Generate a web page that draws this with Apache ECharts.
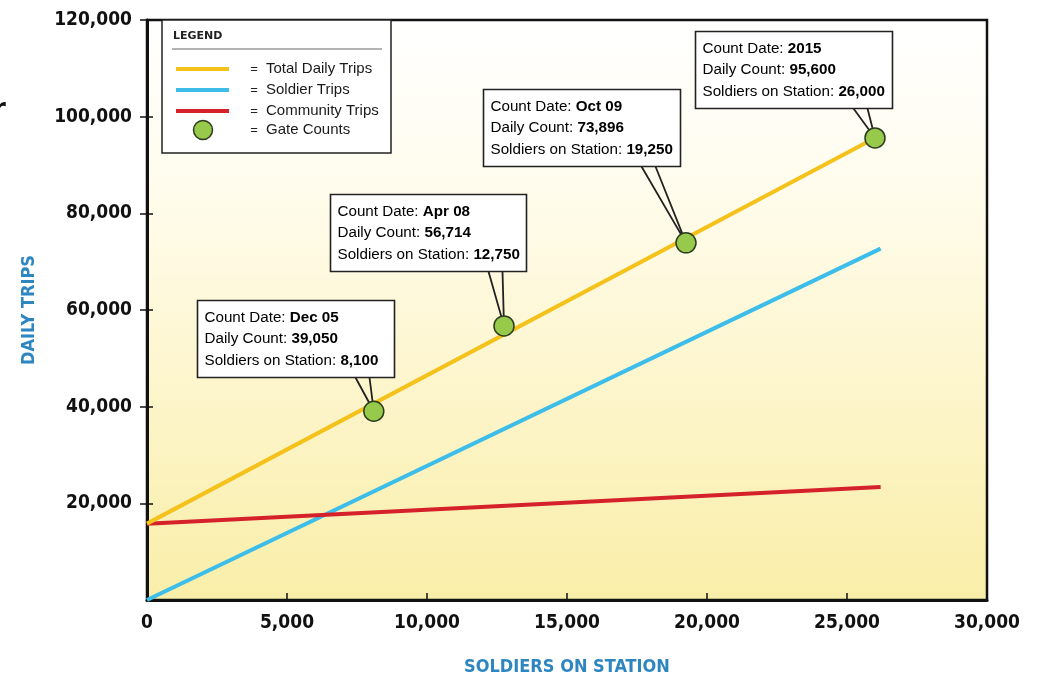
<!DOCTYPE html>
<html><head><meta charset="utf-8">
<script src="https://cdn.jsdelivr.net/npm/echarts/dist/echarts.min.js"></script>
<style>html,body{margin:0;padding:0;background:#fff}#c{width:1040px;height:677px}</style>
</head><body><div id="c"></div>
<script>
// ---- data ----
const xTicks = [0, 5000, 10000, 15000, 20000, 25000, 30000];
const yTicks = [0, 20000, 40000, 60000, 80000, 100000, 120000];
const totalTrips = [[0, 15800], [26000, 95600]];
const soldierTrips = [[0, 0], [26200, 72700]];
const communityTrips = [[0, 15800], [26200, 23400]];
const gateSoldiers = [8100, 12750, 19250, 26000];
const gateCounts = [39050, 56714, 73896, 95600];
const gateDates = ['Dec 05', 'Apr 08', 'Oct 09', '2015'];
const legendNames = ['Total Daily Trips', 'Soldier Trips', 'Community Trips', 'Gate Counts'];

// ---- styles / layout ----
const C_TOTAL = '#f4c21a', C_SOLD = '#3dbde9', C_COMM = '#d4212a', C_GATE = '#97c94b';
const C_NAME = '#2e86c1';
const calloutLayout = [
  {dx: -177, dy: -111, w: 197},
  {dx: -174, dy: -132, w: 196},
  {dx: -203, dy: -154, w: 197},
  {dx: -180, dy: -107, w: 197}
];
const fmt = v => Number(v).toLocaleString('en-US');
const gateData = gateSoldiers.map((x, i) => [x, gateCounts[i], i]);
const axisFont = {fontFamily: 'DejaVu Sans Condensed', fontWeight: 'bold', fontSize: 19, color: '#111'};
const nameFont = {fontFamily: 'DejaVu Sans Condensed', fontWeight: 'bold', fontSize: 18, color: C_NAME};
const txt = {fontFamily: 'Liberation Sans, Arial', fontSize: 15.2, color: '#1a1a1a', lineHeight: 21.5};

const chart = echarts.init(document.getElementById('c'), null, {renderer: 'canvas'});

const legendRowsY = [69, 90, 111, 130];
const legendColors = [C_TOTAL, C_SOLD, C_COMM];
const legendChildren = [
  {type: 'rect', shape: {x: 162, y: 20, width: 229, height: 133}, style: {fill: '#fff', stroke: '#222', lineWidth: 1.5}},
  {type: 'text', style: {x: 173, y: 36, text: 'LEGEND', fontFamily: 'DejaVu Sans', fontWeight: 'bold', fontSize: 11, fill: '#222', verticalAlign: 'middle'}},
  {type: 'line', shape: {x1: 172, y1: 49, x2: 382, y2: 49}, style: {stroke: '#9a9a9a', lineWidth: 1.5}}
];
legendNames.forEach((n, i) => {
  const y = legendRowsY[i];
  if (i < 3) {
    legendChildren.push({type: 'line', shape: {x1: 176, y1: y, x2: 229, y2: y}, style: {stroke: legendColors[i], lineWidth: 4}});
  } else {
    legendChildren.push({type: 'circle', shape: {cx: 203, cy: y, r: 9.5}, style: {fill: C_GATE, stroke: '#2d3b1e', lineWidth: 1.5}});
  }
  legendChildren.push({type: 'text', style: {x: 254, y: y, text: '=', fontFamily: 'Liberation Sans', fontSize: 13, fill: '#222', align: 'center', verticalAlign: 'middle'}});
  legendChildren.push({type: 'text', style: {x: 266, y: y, text: n, fontFamily: 'Liberation Sans, Arial', fontSize: 15, fill: '#1a1a1a', verticalAlign: 'middle'}});
});

const option = {
  animation: false,
  backgroundColor: '#fff',
  grid: {
    left: 147, right: 53, top: 20, bottom: 77,
    containLabel: false, outerBoundsMode: 'none',
    show: true, borderColor: '#111', borderWidth: 2.5,
    backgroundColor: new echarts.graphic.LinearGradient(0, 0, 0, 1, [
      {offset: 0, color: '#ffffff'},
      {offset: 0.3, color: '#fffcec'},
      {offset: 0.6, color: '#fdf6cf'},
      {offset: 1, color: '#f9eea8'}
    ])
  },
  xAxis: {
    type: 'value', min: xTicks[0], max: xTicks[xTicks.length - 1], interval: xTicks[1] - xTicks[0],
    axisLine: {show: true, lineStyle: {color: '#111', width: 3}},
    axisTick: {show: true, inside: true, length: 7, lineStyle: {color: '#111', width: 1.5}},
    axisLabel: Object.assign({margin: 14, formatter: v => fmt(v)}, axisFont),
    splitLine: {show: false},
    name: 'SOLDIERS ON STATION', nameLocation: 'middle', nameGap: 58, nameTextStyle: nameFont
  },
  yAxis: [{
    type: 'value', min: yTicks[0], max: yTicks[yTicks.length - 1], interval: yTicks[1] - yTicks[0],
    axisLine: {show: true, lineStyle: {color: '#111', width: 3}},
    axisTick: {show: true, length: 7, lineStyle: {color: '#111', width: 1.5}},
    axisLabel: Object.assign({margin: 15, showMinLabel: false, formatter: v => fmt(v)}, axisFont),
    splitLine: {show: false},
    name: 'DAILY TRIPS', nameLocation: 'middle', nameGap: 109, nameTextStyle: nameFont
  }, {
    type: 'value', min: yTicks[0], max: yTicks[yTicks.length - 1], interval: yTicks[1] - yTicks[0],
    position: 'left',
    axisLine: {show: false},
    axisTick: {show: true, inside: true, length: 6, lineStyle: {color: '#111', width: 1.5}},
    axisLabel: {show: false}, splitLine: {show: false}
  }],
  graphic: [
    {type: 'group', z: 100, children: legendChildren},
    {type: 'text', z: 100, style: {x: -7, y: 110, text: 'r', fontFamily: 'DejaVu Sans', fontWeight: 'bold', fontSize: 26, fill: '#111', verticalAlign: 'middle'}}
  ],
  series: [
    {name: legendNames[1], type: 'line', data: soldierTrips, showSymbol: false, z: 3,
      lineStyle: {color: C_SOLD, width: 4}, itemStyle: {color: C_SOLD}},
    {name: legendNames[2], type: 'line', data: communityTrips, showSymbol: false, z: 3,
      lineStyle: {color: C_COMM, width: 4}, itemStyle: {color: C_COMM}},
    {name: legendNames[0], type: 'line', data: totalTrips, showSymbol: false, z: 3,
      lineStyle: {color: C_TOTAL, width: 4}, itemStyle: {color: C_TOTAL}},
    {name: 'callouts', type: 'custom', z: 2, data: gateData,
      renderItem: function (params, api) {
        const i = api.value(2);
        const p = api.coord([api.value(0), api.value(1)]);
        const L = calloutLayout[i];
        const bx = Math.round(p[0] + L.dx) + 0.5, by = Math.round(p[1] + L.dy) + 0.5, h = 77;
        const text = '{r|Count Date: }{b|' + gateDates[i] + '}\n' +
          '{r|Daily Count: }{b|' + fmt(gateCounts[i]) + '}\n' +
          '{r|Soldiers on Station: }{b|' + fmt(gateSoldiers[i]) + '}';
        return {type: 'group', children: [
          {type: 'polyline', shape: {points: [[bx + 158, by + h], [p[0], p[1]], [bx + 172, by + h]]},
            style: {fill: 'none', stroke: '#222', lineWidth: 1.8}},
          {type: 'rect', shape: {x: bx, y: by, width: L.w, height: h},
            style: {fill: '#fff', stroke: '#222', lineWidth: 1.6}},
          {type: 'text', style: {x: bx + 7, y: by + h / 2, text: text, verticalAlign: 'middle',
            rich: {r: txt, b: Object.assign({}, txt, {fontWeight: 'bold'})}}}
        ]};
      }
    },
    {name: legendNames[3], type: 'scatter', data: gateData, z: 5, symbolSize: 20,
      itemStyle: {color: C_GATE, borderColor: '#2d3b1e', borderWidth: 1.5, opacity: 1}}
  ]
};
chart.setOption(option);
</script>
</body></html>
